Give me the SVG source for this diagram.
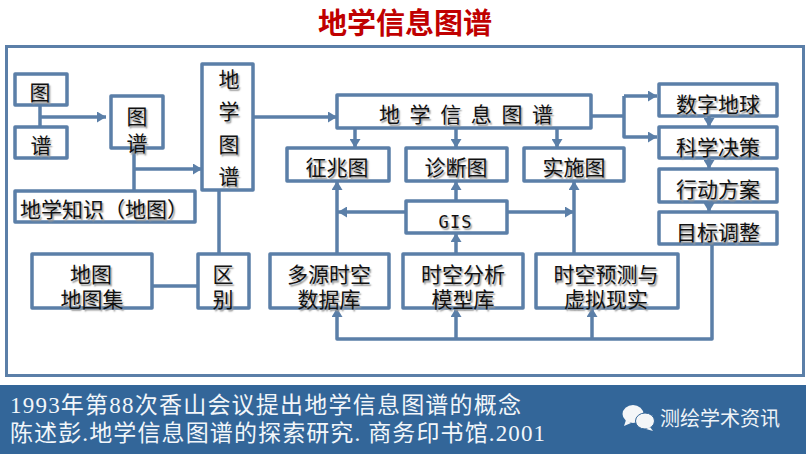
<svg xmlns="http://www.w3.org/2000/svg" width="806" height="454" viewBox="0 0 806 454">
<style>
.b{fill:#fff;stroke:#5b7fa8;stroke-width:3.5;stroke-linejoin:round}
.c{fill:none;stroke:#5b7fa8;stroke-width:3.5;stroke-linejoin:round}
.t{font-family:"Noto Sans CJK SC","Noto Sans",sans-serif;font-size:21px;fill:#111;text-anchor:middle;text-shadow:1.5px 1.5px 1.5px #999}
.f{font-family:"Liberation Serif","Noto Sans CJK SC",serif;font-size:23px;fill:#f2f6fa}
</style>
<defs><marker id="a" markerUnits="userSpaceOnUse" markerWidth="10" markerHeight="11" refX="9" refY="5.5" orient="auto"><path d="M0 0L9 5.5L0 11Z" fill="#5b7fa8"/></marker></defs>
<rect width="806" height="454" fill="#fff"/>
<text id="title" x="405" y="34" text-anchor="middle" style="font-family:'Noto Sans CJK SC',sans-serif;font-size:29px;font-weight:700;fill:#c00000">地学信息图谱</text>
<rect id="frame" x="6.5" y="46.5" width="797" height="329" fill="none" stroke="#5b7fa8" stroke-width="3"/>
<g id="connectors">
<path class="c" d="M40 105V127"/><path class="c" d="M40 117H106" marker-end="url(#a)"/>
<path class="c" d="M134 148V191"/><path class="c" d="M134 169H202" marker-end="url(#a)"/>
<path class="c" d="M219 190V254"/><path class="c" d="M152 286H200"/>
<path class="c" d="M253 117H337" marker-end="url(#a)"/>
<path class="c" d="M355 128V148" marker-end="url(#a)"/><path class="c" d="M456 128V148" marker-end="url(#a)"/><path class="c" d="M557 128V148" marker-end="url(#a)"/>
<path class="c" d="M591 116H624"/><path class="c" d="M624 96V137H657" marker-end="url(#a)"/><path class="c" d="M624 96H657" marker-end="url(#a)"/>
<path class="c" d="M337 254V181" marker-end="url(#a)"/><path class="c" d="M406 212H338" marker-end="url(#a)"/>
<path class="c" d="M507 212H574" marker-end="url(#a)"/><path class="c" d="M574 254V181" marker-end="url(#a)"/>
<path class="c" d="M456 201V181" marker-end="url(#a)"/><path class="c" d="M456 254V233" marker-end="url(#a)"/>
<path class="c" d="M712 244V339H337V308" marker-end="url(#a)"/><path class="c" d="M456 339V308" marker-end="url(#a)"/><path class="c" d="M592 339V308" marker-end="url(#a)"/>
</g>
<g id="n-tu"><rect class="b" x="15" y="74" width="52" height="31"/><text class="t" x="40" y="100">图</text></g>
<g id="n-pu"><rect class="b" x="15" y="127" width="52" height="31"/><text class="t" x="41" y="153">谱</text></g>
<g id="n-tupu"><rect class="b" x="111" y="96" width="52" height="52"/><text class="t" x="137" y="124">图<tspan x="137" dy="27">谱</tspan></text></g>
<g id="n-dxtp"><rect class="b" x="202" y="64" width="51" height="126"/><text class="t" x="229" y="87">地<tspan x="229" dy="32">学</tspan><tspan x="229" dy="33">图</tspan><tspan x="229" dy="32">谱</tspan></text></g>
<g id="n-zs"><rect class="b" x="15" y="191" width="180" height="31"/><text class="t" x="20" y="217" style="text-anchor:start">地学知识（地图）</text></g>
<g id="n-main"><rect class="b" x="337" y="95" width="254" height="33"/><text class="t" x="466" y="122" textLength="174" lengthAdjust="spacing">地学信息图谱</text></g>
<g id="n-zz"><rect class="b" x="287" y="148" width="102" height="33"/><text class="t" x="337" y="175">征兆图</text></g>
<g id="n-zd"><rect class="b" x="406" y="148" width="101" height="33"/><text class="t" x="456" y="175">诊断图</text></g>
<g id="n-ss"><rect class="b" x="524" y="148" width="100" height="33"/><text class="t" x="574" y="175">实施图</text></g>
<g id="n-gis"><rect class="b" x="406" y="201" width="101" height="32"/><text class="t" x="455" y="228" textLength="33" style="font-family:'DejaVu Sans Mono',monospace;font-size:17px">GIS</text></g>
<g id="n-sz"><rect class="b" x="659" y="84" width="118" height="32"/><text class="t" x="718" y="112">数字地球</text></g>
<g id="n-kx"><rect class="b" x="659" y="127" width="118" height="31"/><text class="t" x="718" y="155">科学决策</text></g>
<g id="n-xd"><rect class="b" x="659" y="169" width="118" height="33"/><text class="t" x="718" y="197">行动方案</text></g>
<g id="n-mb"><rect class="b" x="659" y="212" width="118" height="32"/><text class="t" x="718" y="240">目标调整</text></g>
<path class="c" d="M709 116V127" marker-end="url(#a)"/><path class="c" d="M709 158V169" marker-end="url(#a)"/><path class="c" d="M709 202V212" marker-end="url(#a)"/>
<g id="n-dt"><rect class="b" x="32" y="254" width="120" height="54"/><text class="t" x="91" y="282">地图<tspan x="92" dy="25">地图集</tspan></text></g>
<g id="n-qb"><rect class="b" x="198" y="254" width="51" height="54"/><text class="t" x="223" y="282">区<tspan x="223" dy="25">别</tspan></text></g>
<g id="n-dy"><rect class="b" x="270" y="254" width="119" height="54"/><text class="t" x="329" y="282">多源时空<tspan x="329" dy="25">数据库</tspan></text></g>
<g id="n-fx"><rect class="b" x="403" y="254" width="120" height="54"/><text class="t" x="463" y="282">时空分析<tspan x="463" dy="25">模型库</tspan></text></g>
<g id="n-yc"><rect class="b" x="536" y="254" width="142" height="54"/><text class="t" x="606" y="282">时空预测与<tspan x="606" dy="25">虚拟现实</tspan></text></g>
<rect id="footer" x="0" y="385" width="806" height="69" fill="#336699"/>
<text class="f" x="10" y="413" textLength="511">1993年第88次香山会议提出地学信息图谱的概念</text>
<text class="f" x="10" y="441" textLength="535">陈述彭.地学信息图谱的探索研究. 商务印书馆.2001</text>
<g id="wechat" fill="#f4f6f8"><ellipse cx="633" cy="414" rx="10.5" ry="9"/><path d="M626 420l-2 6 7-3z"/><ellipse cx="645" cy="421" rx="9.5" ry="8" stroke="#336699"/><path d="M650 427l3 4-7-2z"/></g>
<text x="660" y="426" style="font-family:'Noto Sans CJK SC',sans-serif;font-size:20px;fill:#eef3f8" textLength="120">测绘学术资讯</text>
</svg>
